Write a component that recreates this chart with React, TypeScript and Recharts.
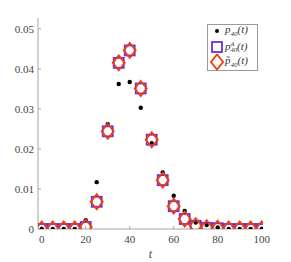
import { ScatterChart, Scatter, XAxis, YAxis } from "recharts";

// time steps and the three probability series
const tValues = [0, 5, 10, 15, 20, 25, 30, 35, 40, 45, 50, 55, 60, 65, 70, 75, 80, 85, 90, 95, 100];
const p40 = [0, 0, 0, 0, 0.0022, 0.0117, 0.0262, 0.0362, 0.0367, 0.0303, 0.0214, 0.0141, 0.0083, 0.0045, 0.0016, 0.001, 0.0004, 0, 0, 0, 0];
const p40A = [0, 0, 0, 0, 0.0005, 0.0068, 0.0244, 0.0415, 0.0446, 0.0351, 0.0223, 0.0122, 0.0057, 0.0025, 0.0008, 0.0003, 0.0002, 0, 0, 0, 0];
const p40Tilde = [0, 0, 0, 0, 0.0005, 0.0068, 0.0244, 0.0415, 0.0446, 0.0351, 0.0223, 0.0122, 0.0057, 0.0025, 0.0008, 0.0003, 0.0002, 0, 0, 0, 0];
const xTicks = [0, 20, 40, 60, 80, 100];
const yTicks = [0, 0.01, 0.02, 0.03, 0.04, 0.05];

const PURPLE = "#6f2fd4";
const RED = "#f03c0c";
const AXIS = "#a6a6a6";
const FONT = "Liberation Serif";

const toPoints = (ys: number[]) => tValues.map((t, i) => ({ t, p: ys[i] }));

const DotShape = (props: any) => (
  <circle cx={props.cx} cy={props.cy} r={2.2} fill="#000" />
);

const SquareShape = (props: any) => (
  <rect
    x={props.cx - 5}
    y={props.cy - 5}
    width={10}
    height={10}
    fill="none"
    stroke={PURPLE}
    strokeWidth={1.8}
  />
);

const DiamondShape = (props: any) => {
  const { cx, cy } = props;
  return (
    <path
      d={`M${cx} ${cy - 7.5} L${cx + 6} ${cy} L${cx} ${cy + 7.5} L${cx - 6} ${cy} Z`}
      fill="none"
      stroke={RED}
      strokeWidth={1.8}
    />
  );
};

const tickStyle = { fontFamily: FONT, fontSize: 11, fill: "#444" };

function LegendBox() {
  const row = (top: number, height: number): any => ({
    position: "absolute",
    left: 0,
    top,
    height,
    width: "100%",
    display: "flex",
    alignItems: "center",
  });
  const text: any = { position: "absolute", left: 17, whiteSpace: "nowrap" };
  return (
    <div
      style={{
        position: "absolute",
        left: 207,
        top: 24,
        width: 51,
        height: 47,
        border: "1px solid #9a9a9a",
        boxSizing: "border-box",
        background: "#fff",
        fontFamily: FONT,
        fontStyle: "italic",
        fontSize: 11,
        color: "#333",
        lineHeight: 1,
      }}
    >
      <div style={row(0, 12)}>
        <svg width={14} height={12} style={{ marginLeft: 2 }}>
          <circle cx={7} cy={6} r={2} fill="#000" />
        </svg>
        <span style={text}>
          p<sub style={{ fontSize: 7 }}>40</sub>(t)
        </span>
      </div>
      <div style={row(14, 16)}>
        <svg width={14} height={16} style={{ marginLeft: 2 }}>
          <rect x={2} y={3} width={10} height={10} fill="none" stroke={PURPLE} strokeWidth={1.8} />
        </svg>
        <span style={text}>
          p
          <span
            style={{
              display: "inline-flex",
              flexDirection: "column",
              fontSize: 6.5,
              lineHeight: 1,
              verticalAlign: "middle",
            }}
          >
            <span>A</span>
            <span>40</span>
          </span>
          (t)
        </span>
      </div>
      <div style={row(29, 16)}>
        <svg width={14} height={16} style={{ marginLeft: 2 }}>
          <path d="M7 0.5 L13 8 L7 15.5 L1 8 Z" fill="none" stroke={RED} strokeWidth={1.8} />
        </svg>
        <span style={text}>
          p&#771;<sub style={{ fontSize: 7 }}>40</sub>(t)
        </span>
      </div>
    </div>
  );
}

export default function App() {
  return (
    <div style={{ position: "absolute", left: 0, top: 0, width: 291, height: 262, background: "#fff" }}>
      <ScatterChart
        width={291}
        height={262}
        margin={{ top: 18, right: 28, left: 8, bottom: 3 }}
      >
        <XAxis
          xAxisId="bottom"
          type="number"
          dataKey="t"
          domain={[-1.7, 100.6]}
          ticks={xTicks}
          allowDataOverflow
          height={30}
          stroke={AXIS}
          tickSize={-3}
          tickMargin={9}
          tick={tickStyle}
          label={{
            value: "t",
            position: "insideBottom",
            offset: 1,
            style: { fontFamily: FONT, fontStyle: "italic", fontSize: 12, fill: "#444" },
          }}
        />
        <XAxis
          xAxisId="top"
          orientation="top"
          type="number"
          domain={[-1.7, 100.6]}
          ticks={xTicks}
          allowDataOverflow
          height={0}
          stroke={AXIS}
          tickSize={-3}
          tickFormatter={() => ""}
        />
        <YAxis
          yAxisId="left"
          type="number"
          dataKey="p"
          domain={[0, 0.0527]}
          ticks={yTicks}
          allowDataOverflow
          width={30}
          stroke={AXIS}
          tickSize={-3}
          tickMargin={7}
          tick={tickStyle}
          tickFormatter={(v: number) => (v === 0 ? "0" : v.toFixed(2))}
        />
        <YAxis
          yAxisId="right"
          orientation="right"
          type="number"
          domain={[0, 0.0527]}
          ticks={yTicks}
          allowDataOverflow
          width={0}
          stroke={AXIS}
          tickSize={-3}
          tickFormatter={() => ""}
        />
        <Scatter
          xAxisId="bottom"
          yAxisId="left"
          data={toPoints(p40)}
          shape={DotShape}
          isAnimationActive={false}
        />
        <Scatter
          xAxisId="bottom"
          yAxisId="left"
          data={toPoints(p40A)}
          shape={SquareShape}
          isAnimationActive={false}
        />
        <Scatter
          xAxisId="bottom"
          yAxisId="left"
          data={toPoints(p40Tilde)}
          shape={DiamondShape}
          isAnimationActive={false}
        />
      </ScatterChart>
      <LegendBox />
    </div>
  );
}
